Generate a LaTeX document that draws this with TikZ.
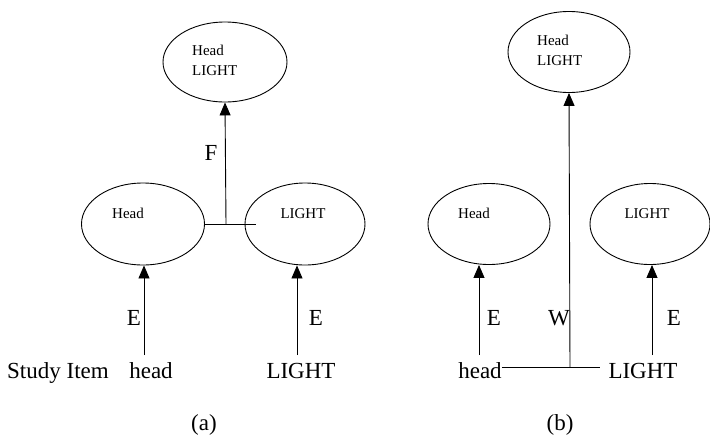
\documentclass[tikz,border=0pt]{standalone}
\usepackage{fontspec}
\setmainfont{Liberation Serif}
\usetikzlibrary{shapes.geometric,arrows.meta}
\begin{document}
\begin{tikzpicture}[x=1pt,y=-1pt,
  oval/.style={draw,ellipse,line width=0.9pt,inner sep=0pt},
  small/.style={font=\fontsize{15}{20}\selectfont,inner sep=0pt},
  big/.style={font=\fontsize{23}{26}\selectfont,inner sep=0pt,anchor=base},
  link/.style={line width=0.9pt},
  arr/.style={line width=0.9pt,-{Triangle[width=11pt,length=13pt]}}]
\useasboundingbox (0,0) rectangle (710,437);
% ---------- panel (a) ----------
\node[oval,minimum width=124pt,minimum height=80pt] (topA) at (225,62) {};
\node[oval,minimum width=123pt,minimum height=82pt] (lA) at (143,224) {};
\node[oval,minimum width=120pt,minimum height=82pt] (rA) at (305,224) {};
\node[small,anchor=west,align=left] (tAtxt) at (192,60) {Head\\LIGHT};
\node[small,anchor=base] (lAtxt) at (128,218) {Head};
\node[small,anchor=base] (rAtxt) at (303,218) {LIGHT};
\node[big,anchor=base west] (studyA) at (7,378) {Study Item};
\node[big] (headA) at (151,378) {head};
\node[big] (lightA) at (301,378) {LIGHT};
\node[big] (F) at (211,160) {F};
\node[big] (E1) at (134,325) {E};
\node[big] (E2) at (316,325) {E};
\node[big] (capA) at (204,430) {(a)};
\coordinate (jA) at (226,224);
\coordinate (jAend) at (256,224);
\coordinate (sA1) at (144,355);
\coordinate (sA2) at (297,355);
\draw[link] (lA.east) -- (jAend);
\draw[arr] (jA) -- (topA.south);
\draw[arr] (sA1) -- (sA1 |- lA.south);
\draw[arr] (sA2) -- (sA2 |- rA.south);
% ---------- panel (b) ----------
\node[oval,minimum width=122pt,minimum height=81pt] (topB) at (569,52) {};
\node[oval,minimum width=122pt,minimum height=81pt] (lB) at (489,224) {};
\node[oval,minimum width=120pt,minimum height=81pt] (rB) at (650,224) {};
\node[small,anchor=west,align=left] (tBtxt) at (537,50) {Head\\LIGHT};
\node[small,anchor=base] (lBtxt) at (474,218) {Head};
\node[small,anchor=base] (rBtxt) at (647,218) {LIGHT};
\node[big] (headB) at (480,378) {head};
\node[big] (lightB) at (643,378) {LIGHT};
\node[big] (W) at (559,325) {W};
\node[big] (E3) at (494,325) {E};
\node[big] (E4) at (674,325) {E};
\node[big] (capB) at (560,430) {(b)};
\coordinate (jB) at (570,367);
\coordinate (jBend) at (600,367);
\coordinate (sB1) at (479,355);
\coordinate (sB2) at (652,355);
\draw[link] (jB -| headB.east) -- (jBend);
\draw[arr] (jB) -- (topB.south);
\draw[arr] (sB1) -- (sB1 |- lB.south);
\draw[arr] (sB2) -- (sB2 |- rB.south);
\end{tikzpicture}
\end{document}
